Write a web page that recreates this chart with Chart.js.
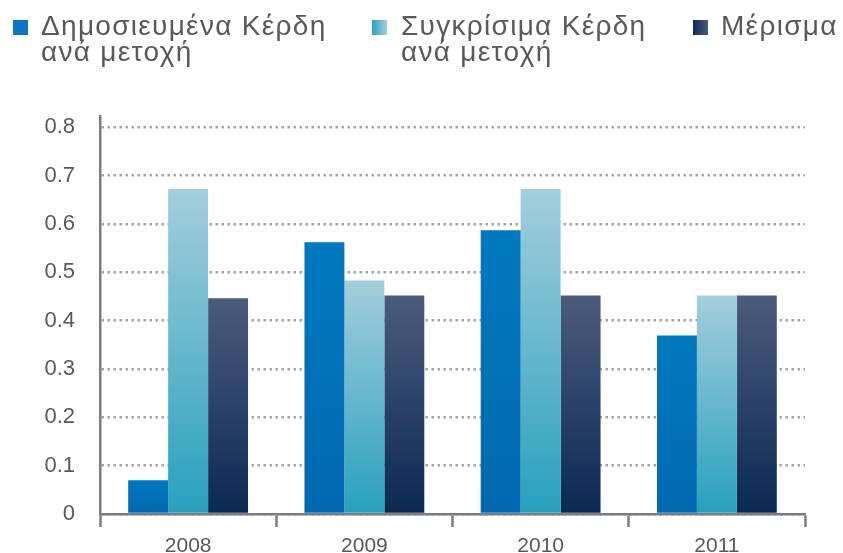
<!DOCTYPE html>
<html lang="el">
<head>
<meta charset="utf-8">
<script src="https://cdn.jsdelivr.net/npm/chart.js@4/dist/chart.umd.min.js"></script>
<style>
    html, body { margin: 0; padding: 0; background: #fff; }
    #wrap { position: relative; width: 843px; height: 553px; }
    #chart { position: absolute; left: 0; top: 0; }
    .legend-box { position: absolute; width: 15px; height: 15px; }
    .legend-text {
        position: absolute; white-space: nowrap;
        font-family: "Liberation Sans", Arial, sans-serif;
        font-size: 28px; line-height: 26px; letter-spacing: 1.3px;
        color: #58595b;
    }
</style>
</head>
<body>
<div id="wrap">
    <canvas id="chart" width="843" height="553"></canvas>
    <div id="legend"></div>
</div>
<script>
const years = ["2008", "2009", "2010", "2011"];
const reportedEps = [0.07, 0.562, 0.587, 0.369];
const comparableEps = [0.672, 0.483, 0.672, 0.452];
const dividend = [0.446, 0.452, 0.452, 0.452];
const yTicks = [0, 0.1, 0.2, 0.3, 0.4, 0.5, 0.6, 0.7, 0.8];
const seriesNames = [
    ["Δημοσιευμένα Κέρδη", "ανά μετοχή"],
    ["Συγκρίσιμα Κέρδη", "ανά μετοχή"],
    ["Μέρισμα"]
];

const axisGray = "#7d7d7d";
const textGray = "#58595b";

// each bar fades from its own top down to the zero line
function barFill(top, bottom) {
    return ctx => {
        const chart = ctx.chart;
        if (!chart.chartArea || ctx.type !== "data") return bottom;
        const y = chart.scales.y;
        const g = chart.ctx.createLinearGradient(0, y.getPixelForValue(ctx.raw), 0, y.getPixelForValue(0));
        g.addColorStop(0, top);
        g.addColorStop(1, bottom);
        return g;
    };
}

const palette = [
    { top: "#0079be", bottom: "#0068b0", box: "#0a78c0" },
    { top: "#a4cedc", bottom: "#27a0bd", box: "linear-gradient(to right, #2aa0be, #a5d0dd)" },
    { top: "#4b5b7b", bottom: "#0b2953", box: "linear-gradient(to right, #102a55, #4b5b7b)" }
];

const legendPos = [
    { box: 13, text: 41 },
    { box: 372, text: 401 },
    { box: 693, text: 721 }
];

const legend = document.getElementById("legend");
seriesNames.forEach((lines, i) => {
    legend.innerHTML += `
        <div class="legend-box" style="left:${legendPos[i].box}px;top:20px;background:${palette[i].box}"></div>
        <div class="legend-text" style="left:${legendPos[i].text}px;top:13px">${lines.join("<br>")}</div>
    `;
});

const seriesData = [reportedEps, comparableEps, dividend];

new Chart(document.getElementById("chart"), {
    type: "bar",
    data: {
        labels: years,
        datasets: seriesData.map((d, i) => ({
            label: seriesNames[i].join(" "),
            data: d,
            backgroundColor: barFill(palette[i].top, palette[i].bottom),
            borderWidth: 0,
            categoryPercentage: 0.68,
            barPercentage: 1
        }))
    },
    options: {
        responsive: false,
        animation: false,
        layout: { padding: { left: 0, right: 38, top: 116, bottom: 0 } },
        plugins: { legend: { display: false }, tooltip: { enabled: false } },
        scales: {
            x: {
                offset: true,
                afterFit: s => { s.height = 39; },
                border: { display: true, color: axisGray, width: 2.5 },
                grid: {
                    offset: true,
                    drawOnChartArea: false,
                    drawTicks: true,
                    tickLength: 13,
                    tickColor: axisGray,
                    tickWidth: 2.5
                },
                ticks: {
                    color: textGray,
                    padding: 7,
                    font: { family: "Liberation Sans", size: 21 }
                }
            },
            y: {
                min: 0,
                max: 0.823,
                afterFit: s => { s.width = 100; },
                afterBuildTicks: s => { s.ticks = yTicks.map(v => ({ value: v })); },
                border: { display: true, color: axisGray, width: 2.5, dash: [2.5, 3.5] },
                grid: {
                    drawTicks: false,
                    color: "#a5a5a5",
                    lineWidth: 2.5
                },
                ticks: {
                    color: textGray,
                    padding: 25,
                    font: { family: "Liberation Sans", size: 22 },
                    callback: v => v === 0 ? "0" : v.toFixed(1)
                }
            }
        }
    }
});
</script>
</body>
</html>
